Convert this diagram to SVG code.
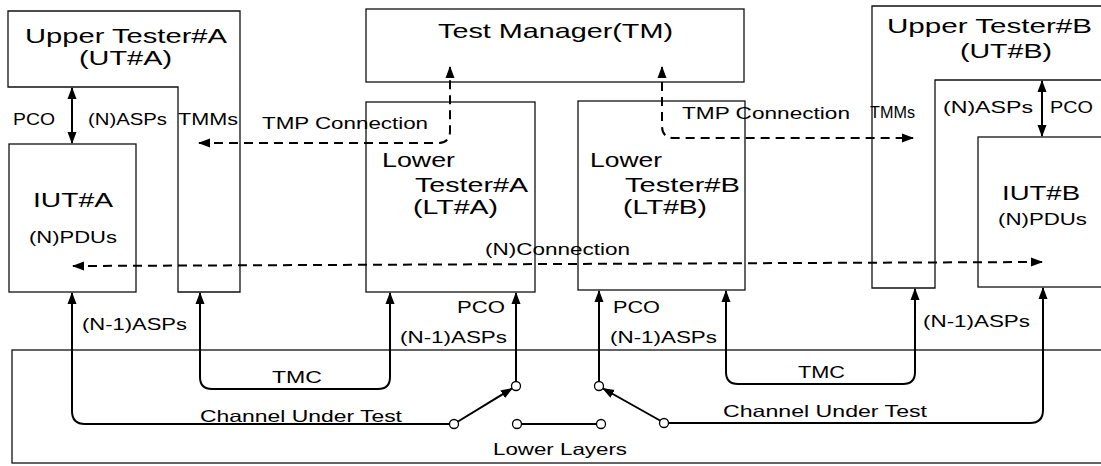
<svg xmlns="http://www.w3.org/2000/svg" width="1101" height="466" viewBox="0 0 1101 466">
<defs>
<marker id="ah" viewBox="0 0 12 10" refX="11" refY="5" markerWidth="12" markerHeight="10" markerUnits="userSpaceOnUse" orient="auto-start-reverse">
<path d="M0,0.5 L12,5 L0,9.5 Z" fill="#000"/>
</marker>
</defs>
<style>
.box{fill:none;stroke:#111;stroke-width:1.3}
.ln{fill:none;stroke:#000;stroke-width:2}
.dash{fill:none;stroke:#000;stroke-width:2;stroke-dasharray:9 6}
.sw{fill:#fff;stroke:#000;stroke-width:1.3}
.big{font-family:"Liberation Sans",Arial,sans-serif;font-size:21px;fill:#000}
.sm{font-family:"Liberation Sans",Arial,sans-serif;font-size:16.5px;fill:#000}
</style>
<rect width="1101" height="466" fill="#fff"/>

<g id="lower-layers">
<rect class="box" x="12" y="350" width="1100" height="113"/>
<text class="sm" x="493" y="455" textLength="134" lengthAdjust="spacingAndGlyphs">Lower Layers</text>
</g>

<g id="ut-a">
<path class="box" d="M8,11 H240 V292 H178 V87 H8 Z"/>
<text class="big" x="25" y="43" textLength="202" lengthAdjust="spacingAndGlyphs">Upper Tester#A</text>
<text class="big" x="79" y="65" textLength="93" lengthAdjust="spacingAndGlyphs">(UT#A)</text>
<text class="sm" x="178" y="125" textLength="60" lengthAdjust="spacingAndGlyphs">TMMs</text>
</g>

<g id="iut-a">
<rect class="box" x="9" y="144" width="127" height="148"/>
<text class="big" x="33" y="207" textLength="80" lengthAdjust="spacingAndGlyphs">IUT#A</text>
<text class="sm" x="29" y="243" textLength="88" lengthAdjust="spacingAndGlyphs">(N)PDUs</text>
</g>

<g id="tm">
<rect class="box" x="366" y="9" width="378" height="73"/>
<text class="big" x="438" y="38" textLength="235" lengthAdjust="spacingAndGlyphs">Test Manager(TM)</text>
</g>

<g id="lt-a">
<rect class="box" x="366" y="102" width="169" height="190"/>
<text class="big" x="382" y="167" textLength="73" lengthAdjust="spacingAndGlyphs">Lower</text>
<text class="big" x="415" y="192" textLength="113" lengthAdjust="spacingAndGlyphs">Tester#A</text>
<text class="big" x="413" y="214" textLength="85" lengthAdjust="spacingAndGlyphs">(LT#A)</text>
</g>

<g id="lt-b">
<rect class="box" x="578" y="101" width="167" height="189"/>
<text class="big" x="590" y="167" textLength="72" lengthAdjust="spacingAndGlyphs">Lower</text>
<text class="big" x="625" y="192" textLength="115" lengthAdjust="spacingAndGlyphs">Tester#B</text>
<text class="big" x="623" y="214" textLength="84" lengthAdjust="spacingAndGlyphs">(LT#B)</text>
</g>

<g id="ut-b">
<path class="box" d="M872,6 H1112 V80 H935 V288 H872 Z"/>
<text class="big" x="887" y="33" textLength="205" lengthAdjust="spacingAndGlyphs">Upper Tester#B</text>
<text class="big" x="960" y="58" textLength="92" lengthAdjust="spacingAndGlyphs">(UT#B)</text>
<text class="sm" x="870" y="118" textLength="45" lengthAdjust="spacingAndGlyphs">TMMs</text>
</g>

<g id="iut-b">
<rect class="box" x="978" y="137" width="134" height="150"/>
<text class="big" x="1002" y="200" textLength="78" lengthAdjust="spacingAndGlyphs">IUT#B</text>
<text class="sm" x="998" y="225" textLength="89" lengthAdjust="spacingAndGlyphs">(N)PDUs</text>
</g>

<g id="connectors">
<line class="ln" x1="72" y1="88" x2="72" y2="143" marker-start="url(#ah)" marker-end="url(#ah)"/>
<line class="ln" x1="1042" y1="81" x2="1042" y2="136" marker-start="url(#ah)" marker-end="url(#ah)"/>
<path class="dash" d="M199,143 H438 Q450,143 450,131 V67" marker-start="url(#ah)" marker-end="url(#ah)"/>
<path class="dash" d="M662,67 V126 Q662,138 674,138 H913" marker-start="url(#ah)" marker-end="url(#ah)"/>
<line class="dash" x1="73" y1="266" x2="1042" y2="262" marker-start="url(#ah)" marker-end="url(#ah)"/>
<path class="ln" d="M200,293 V377 Q200,389 212,389 H378 Q390,389 390,377 V293" marker-start="url(#ah)" marker-end="url(#ah)"/>
<path class="ln" d="M726,291 V372 Q726,384 738,384 H903 Q915,384 915,372 V289" marker-start="url(#ah)" marker-end="url(#ah)"/>
<path class="ln" d="M449.5,424 H85 Q72,424 72,411 V293" marker-end="url(#ah)"/>
<path class="ln" d="M668.5,423 H1030 Q1043,423 1043,410 V288" marker-end="url(#ah)"/>
<line class="ln" x1="516" y1="381.5" x2="516" y2="293" marker-end="url(#ah)"/>
<line class="ln" x1="599" y1="381.5" x2="599" y2="291" marker-end="url(#ah)"/>
<line class="ln" x1="458" y1="421.5" x2="512" y2="388.5" marker-end="url(#ah)"/>
<line class="ln" x1="660" y1="420.5" x2="603" y2="388.5" marker-end="url(#ah)"/>
<line class="ln" x1="521" y1="424" x2="597" y2="424"/>
<circle class="sw" cx="454" cy="424" r="4.5"/>
<circle class="sw" cx="516" cy="386" r="4.5"/>
<circle class="sw" cx="517" cy="424" r="4.5"/>
<circle class="sw" cx="601" cy="424" r="4.5"/>
<circle class="sw" cx="599" cy="386" r="4.5"/>
<circle class="sw" cx="664" cy="423" r="4.5"/>
</g>

<g id="labels">
<text class="sm" x="13" y="125" textLength="42" lengthAdjust="spacingAndGlyphs">PCO</text>
<text class="sm" x="88" y="125" textLength="79" lengthAdjust="spacingAndGlyphs">(N)ASPs</text>
<text class="sm" x="262" y="129" textLength="166" lengthAdjust="spacingAndGlyphs">TMP Connection</text>
<text class="sm" x="682" y="119" textLength="168" lengthAdjust="spacingAndGlyphs">TMP Connection</text>
<text class="sm" x="943" y="113" textLength="90" lengthAdjust="spacingAndGlyphs">(N)ASPs</text>
<text class="sm" x="1050" y="113" textLength="43" lengthAdjust="spacingAndGlyphs">PCO</text>
<text class="sm" x="485" y="255" textLength="145" lengthAdjust="spacingAndGlyphs">(N)Connection</text>
<text class="sm" x="82" y="330" textLength="105" lengthAdjust="spacingAndGlyphs">(N-1)ASPs</text>
<text class="sm" x="457" y="313" textLength="48" lengthAdjust="spacingAndGlyphs">PCO</text>
<text class="sm" x="400" y="343" textLength="107" lengthAdjust="spacingAndGlyphs">(N-1)ASPs</text>
<text class="sm" x="613" y="313" textLength="47" lengthAdjust="spacingAndGlyphs">PCO</text>
<text class="sm" x="610" y="343" textLength="107" lengthAdjust="spacingAndGlyphs">(N-1)ASPs</text>
<text class="sm" x="923" y="327" textLength="107" lengthAdjust="spacingAndGlyphs">(N-1)ASPs</text>
<text class="sm" x="272" y="383" textLength="50" lengthAdjust="spacingAndGlyphs">TMC</text>
<text class="sm" x="798" y="378" textLength="47" lengthAdjust="spacingAndGlyphs">TMC</text>
<text class="sm" x="200" y="422" textLength="202" lengthAdjust="spacingAndGlyphs">Channel Under Test</text>
<text class="sm" x="723" y="417" textLength="204" lengthAdjust="spacingAndGlyphs">Channel Under Test</text>
</g>
</svg>
